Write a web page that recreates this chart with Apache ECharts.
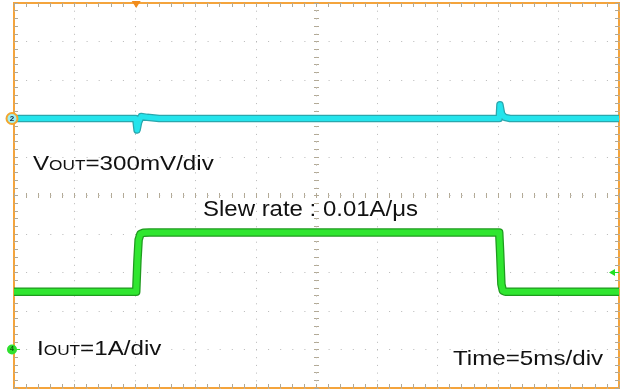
<!DOCTYPE html>
<html>
<head>
<meta charset="utf-8">
<script src="https://cdn.jsdelivr.net/npm/echarts@6/dist/echarts.min.js"></script>
<style>
html, body { margin: 0; padding: 0; background: #fff; }
#scope { width: 629px; height: 390px; }
</style>
</head>
<body>
<div id="scope"></div>
<script>
// scope screen: 10 div x 10 div, 5ms/div, levels in divisions from screen centre
var timeMin = 0, timeMax = 50, timeDiv = 5;
var levelMin = -5, levelMax = 5;

// CH2 VOUT (300mV/div)
var voutTime = [0, 10.06, 10.17, 10.3, 10.5, 11.0, 12.0, 40.1, 40.16, 40.3, 40.55, 41.0, 50];
var voutDiv = [2.0, 2.0, 1.7, 1.9, 2.05, 2.03, 2.0, 2.0, 2.36, 2.12, 2.03, 2.0, 2.0];

// CH4 IOUT (1A/div)
var ioutTime = [0, 10.1, 10.2, 10.3, 10.45, 10.7, 11.2, 40.1, 40.18, 40.28, 40.4, 40.6, 50];
var ioutDiv = [-2.5, -2.5, -1.7, -1.15, -1.0, -0.97, -0.96, -0.96, -1.5, -2.3, -2.47, -2.5, -2.5];

// markers
var ch2Ref = 2.0;
var ch4Ref = -4.0;
var trigTime = 10.1;
var trigLevel = -2.0;

var frameColor = '#f4a43c';
var tickColor = '#b2a995';
var dotColor = '#b8b8b8';
var fontName = '"Liberation Sans", Arial, sans-serif';

function pairs(xs, ys) {
    var out = [];
    for (var i = 0; i < xs.length; i++) {
        out.push([xs[i], ys[i]]);
    }
    return out;
}

// axis used only to draw graticule ticks
function tickAxis(base, position, offset, inside, len, split, dash) {
    return {
        type: 'value',
        min: base.min,
        max: base.max,
        interval: base.interval,
        position: position,
        offset: offset,
        axisLine: { show: false, onZero: false },
        axisTick: { show: true, inside: inside, length: len, lineStyle: { color: tickColor, width: 1 } },
        minorTick: { show: true, splitNumber: 5, length: len, lineStyle: { color: tickColor, width: 1 } },
        axisLabel: { show: false },
        splitLine: { show: split, lineStyle: { color: dotColor, width: 1, type: dash } }
    };
}

// trace = darker envelope edge underneath + bright band on top
function trace(name, xs, ys, edge, fill, width) {
    return [
        {
            name: name + ' edge', type: 'line', xAxisIndex: 0, yAxisIndex: 0,
            showSymbol: false, silent: true,
            lineStyle: { color: edge, width: width + 2.5, join: 'round' },
            data: pairs(xs, ys), z: 3
        },
        {
            name: name, type: 'line', xAxisIndex: 0, yAxisIndex: 0,
            showSymbol: false,
            lineStyle: { color: fill, width: width, join: 'round' },
            data: pairs(xs, ys), z: 4
        }
    ];
}

var xBase = { min: timeMin, max: timeMax, interval: timeDiv };
var yBase = { min: levelMin, max: levelMax, interval: 1 };

var bigTok = { fontFamily: fontName, fontSize: 21, lineHeight: 21, fill: '#111', verticalAlign: 'bottom' };
var smallTok = { fontFamily: fontName, fontSize: 15, lineHeight: 15, fill: '#111', verticalAlign: 'bottom', padding: [0, 0, 2, 0] };

var myChart = echarts.init(document.getElementById('scope'));
var option = {
    animation: false,
    grid: {
        left: 14, right: 10, top: 3, bottom: 2,
        show: true,
        borderColor: frameColor,
        borderWidth: 2,
        backgroundColor: '#fff'
    },
    xAxis: [
        tickAxis(xBase, 'bottom', 0, true, 4, true, [1, 6.7]),
        tickAxis(xBase, 'top', 0, true, 4, false),
        tickAxis(xBase, 'bottom', -192.5, true, 2.5, false),
        tickAxis(xBase, 'bottom', -192.5, false, 2.5, false)
    ],
    yAxis: [
        tickAxis(yBase, 'left', 0, true, 4, true, [1, 11.1]),
        tickAxis(yBase, 'right', 0, true, 4, false),
        tickAxis(yBase, 'left', -302.5, true, 2.5, false),
        tickAxis(yBase, 'left', -302.5, false, 2.5, false)
    ],
    series: [].concat(
        trace('VOUT', voutTime, voutDiv, '#2aa7ad', '#24e4ec', 5),
        trace('IOUT', ioutTime, ioutDiv, '#1f9a1f', '#30e630', 6)
    )
};
myChart.setOption(option, true);

var p2 = myChart.convertToPixel({ xAxisIndex: 0, yAxisIndex: 0 }, [timeMin, ch2Ref]);
var p4 = myChart.convertToPixel({ xAxisIndex: 0, yAxisIndex: 0 }, [timeMin, ch4Ref]);
var pt = myChart.convertToPixel({ xAxisIndex: 0, yAxisIndex: 0 }, [trigTime, levelMax]);
var pl = myChart.convertToPixel({ xAxisIndex: 0, yAxisIndex: 0 }, [timeMax, trigLevel]);

myChart.setOption({
    graphic: [
        // trigger position
        { type: 'polygon', x: pt[0], y: pt[1] - 2, shape: { points: [[-4.5, 0], [4.5, 0], [0, 7]] }, style: { fill: '#f28c1c' }, z: 10 },
        // trigger level
        { type: 'polygon', x: pl[0] - 10, y: pl[1], shape: { points: [[0, 0], [6, -3.5], [6, 3.5]] }, style: { fill: '#22e022' }, z: 10 },
        { type: 'line', shape: { x1: pl[0] - 4, y1: pl[1], x2: pl[0], y2: pl[1] }, style: { stroke: '#22e022', lineWidth: 1 }, z: 10 },
        // channel 2 ground marker
        { type: 'circle', x: p2[0] - 2, y: p2[1], shape: { r: 5.5 }, style: { fill: '#9ff0f2', stroke: '#f3a62f', lineWidth: 2 }, z: 10 },
        { type: 'text', x: p2[0] - 2, y: p2[1], style: { text: '2', font: 'bold 8px ' + fontName, fill: '#124', align: 'center', verticalAlign: 'middle' }, z: 11 },
        // channel 4 ground marker
        { type: 'line', shape: { x1: p4[0] - 2, y1: p4[1], x2: p4[0] + 6, y2: p4[1] }, style: { stroke: '#22e022', lineWidth: 1 }, z: 10 },
        { type: 'circle', x: p4[0] - 2, y: p4[1], shape: { r: 5 }, style: { fill: '#2ee02e' }, z: 10 },
        { type: 'text', x: p4[0] - 2, y: p4[1], style: { text: '4', font: 'bold 7px ' + fontName, fill: '#0a5a0a', align: 'center', verticalAlign: 'middle' }, z: 11 },
        // labels
        {
            type: 'text', x: 33, y: 164.5, scaleX: 1.15, z: 12,
            style: {
                text: '{big|V}{small|OUT}{big|=300mV/div}',
                align: 'left', verticalAlign: 'middle',
                rich: { big: bigTok, small: smallTok }
            }
        },
        {
            type: 'text', x: 203, y: 210, scaleX: 1.09, z: 12,
            style: { text: 'Slew rate : 0.01A/\u03bcs', font: '22px ' + fontName, fill: '#111', align: 'left', verticalAlign: 'middle' }
        },
        {
            type: 'text', x: 37, y: 349.5, scaleX: 1.15, z: 12,
            style: {
                text: '{big|I}{small|OUT}{big|=1A/div}',
                align: 'left', verticalAlign: 'middle',
                rich: { big: bigTok, small: smallTok }
            }
        },
        {
            type: 'text', x: 453, y: 359.5, scaleX: 1.15, z: 12,
            style: { text: 'Time=5ms/div', font: '21px ' + fontName, fill: '#111', align: 'left', verticalAlign: 'middle' }
        }
    ]
});
</script>
</body>
</html>
